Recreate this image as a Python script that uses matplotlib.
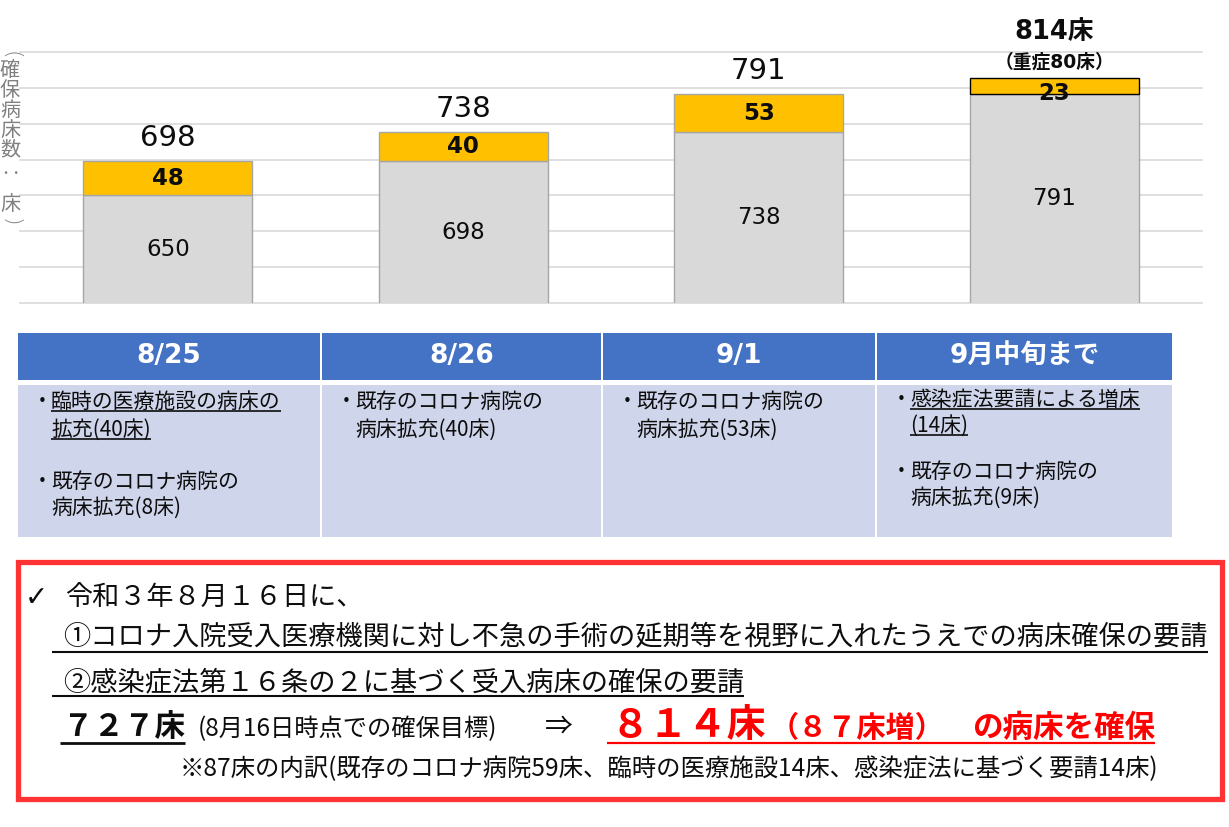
import matplotlib
matplotlib.use("Agg")
import matplotlib.pyplot as plt
from matplotlib.patches import Rectangle

plt.rcParams['font.family'] = ['Noto Sans CJK JP', 'DejaVu Sans']
NUMFONT = ['DejaVu Sans', 'Noto Sans CJK JP']   # Verdana-like digits, CJK fallback

W, H = 1229, 827

# ---- data ---------------------------------------------------------------
dates = ["8/25", "8/26", "9/1", "9月中旬まで"]
existing = [650, 698, 738, 791]
added = [48, 40, 53, 23]
totals = [698, 738, 791, 814]
severe_note = "（重症80床）"
y_label = ["(", "確", "保", "病", "床", "数", "‥", "床", ")"]

# cell lines per column: (row, bullet, text, underlined)
cells = [
    [(0, True, "臨時の医療施設の病床の", True), (1, False, "拡充(40床)", True),
     (2, True, "既存のコロナ病院の", False), (3, False, "病床拡充(8床)", False)],
    [(0, True, "既存のコロナ病院の", False), (1, False, "病床拡充(40床)", False)],
    [(0, True, "既存のコロナ病院の", False), (1, False, "病床拡充(53床)", False)],
    [(0, True, "感染症法要請による増床", True), (1, False, "(14床)", True),
     (2, True, "既存のコロナ病院の", False), (3, False, "病床拡充(9床)", False)],
]

intro = "令和３年８月１６日に、"
req1 = "①コロナ入院受入医療機関に対し不急の手術の延期等を視野に入れたうえでの病床確保の要請"
req2 = "②感染症法第１６条の２に基づく受入病床の確保の要請"
target = "７２７床"
target_note = "(8月16日時点での確保目標)"
result_big = "８１４床"
result_inc = "（８７床増）"
result_tail = "の病床を確保"
breakdown = "※87床の内訳(既存のコロナ病院59床、臨時の医療施設14床、感染症法に基づく要請14床)"

GRAY = "#d9d9d9"
ORANGE = "#ffc000"
BLUE = "#4472c4"
LAV = "#cfd5ea"
RED = "#ff3333"
INK = "#0d0d0d"

fig = plt.figure(figsize=(W / 100, H / 100), dpi=100)


def rect_px(x0, y0, x1, y1):
    return [x0 / W, 1 - y1 / H, (x1 - x0) / W, (y1 - y0) / H]


# ---- stacked bars ---------------------------------------------------------
ax = fig.add_axes(rect_px(20, 51.7, 1202, 303.3))
x = range(len(dates))
ax.bar(x, existing, width=0.572, color=GRAY, edgecolor="#a6a6a6", lw=1, zorder=2)
ax.bar(x, added, bottom=existing, width=0.572, color=ORANGE,
       edgecolor=["#a6a6a6"] * 3 + ["#000000"], lw=1, zorder=2)
ax.set_xlim(-0.5, 3.5)
ax.set_ylim(500, 850)
ax.set_yticks(range(500, 851, 50))
ax.grid(axis="y", color=GRAY, lw=1.2)
for gl in ax.yaxis.get_gridlines():
    gl.set_clip_on(False)
ax.set_axisbelow(True)
ax.tick_params(length=0, labelleft=False, labelbottom=False)
for s in ax.spines.values():
    s.set_visible(False)

for i in x:
    ax.text(i, (500 + existing[i]) / 2, f"{existing[i]}", ha="center", va="center",
            fontsize=16.5, family="DejaVu Sans", color=INK, zorder=5)
    # thin segment: label sits a little low, as in the source slide
    dy = -8 if added[i] < 30 else 0
    ax.annotate(f"{added[i]}", (i, existing[i] + added[i] / 2), xytext=(0, dy),
                textcoords="offset pixels", ha="center", va="center",
                fontsize=16.5, family="DejaVu Sans", fontweight="bold", color=INK,
                zorder=5)
    if i < 3:
        ax.annotate(f"{totals[i]}", (i, totals[i]), xytext=(0, 23),
                    textcoords="offset pixels", ha="center", va="center",
                    fontsize=21, family="DejaVu Sans", color=INK,
                    annotation_clip=False)
    else:
        ax.annotate(f"{totals[i]}床", (i, totals[i]), xytext=(0, 46),
                    textcoords="offset pixels", ha="center", va="center",
                    fontsize=18.5, fontweight="bold", color=INK, family=NUMFONT,
                    annotation_clip=False)
        ax.annotate(severe_note, (i, totals[i]), xytext=(0, 16),
                    textcoords="offset pixels", ha="center", va="center",
                    fontsize=13.5, fontweight="bold", color=INK, family=NUMFONT,
                    annotation_clip=False)

# ---- overlay in pixel coordinates ------------------------------------------
ov = fig.add_axes([0, 0, 1, 1])
ov.set_xlim(0, W)
ov.set_ylim(H, 0)
ov.axis("off")

# vertical axis label, stacked characters (brackets turned for vertical writing)
label_y = [55, 71, 90, 110, 130, 150, 174, 204, 222]
for ch, yy in zip(y_label, label_y):
    if ch in "()":
        ov.text(10.5, yy, ch, ha="center", va="center", fontsize=16,
                color="#808080", rotation=-90, family="DejaVu Sans",
                fontweight="light")
    else:
        ov.text(10, yy, ch, ha="center", va="center", fontsize=14.5,
                color="#808080")

# table
cols = [(18, 320), (322, 601), (603, 875), (877, 1172)]
rows_y = [[402, 430, 482, 508]] * 3 + [[400, 426, 472, 498]]
unders = []
for c, (x0, x1) in enumerate(cols):
    ov.add_patch(Rectangle((x0, 333), x1 - x0, 47, fc=BLUE, ec="none"))
    ov.add_patch(Rectangle((x0, 385), x1 - x0, 152, fc=LAV, ec="none"))
    ov.text((x0 + x1) / 2, 356, dates[c], ha="center", va="center",
            fontsize=19, fontweight="bold", color="white", family=NUMFONT)
    for r, bullet, txt, ul in cells[c]:
        yy = rows_y[c][r]
        if bullet:
            ov.text(x0 + 24, yy, "・", ha="center", va="center", fontsize=15,
                    color=INK)
        t = ov.text(x0 + 33, yy, txt, ha="left", va="center", fontsize=15,
                    color=INK)
        if ul:
            unders.append((t, yy + 9, INK, 1.2, None))

# red box with the summary
ov.add_patch(Rectangle((18, 562), 1204, 237, fill=False, ec=RED, lw=3.8))
ov.text(36, 598, "✓", ha="center", va="center", fontsize=20, color=INK,
        family=["DejaVu Sans"])
ov.text(65, 598, intro, ha="left", va="center", fontsize=19.5, color=INK)
t1 = ov.text(63, 638, req1, ha="left", va="center", fontsize=19.6, color=INK)
t2 = ov.text(63, 683, req2, ha="left", va="center", fontsize=19.6, color=INK)
unders.append((t1, 652, INK, 1.5, 52))
unders.append((t2, 696, INK, 1.5, 52))
t3 = ov.text(63, 727, target, ha="left", va="center", fontsize=22,
             fontweight="bold", color=INK)
unders.append((t3, 743, INK, 2.0, 60))
ov.text(198, 729, target_note, ha="left", va="center", fontsize=17.5, color=INK)
ov.text(545, 727, "⇒", ha="left", va="center", fontsize=20, color=INK)
t4 = ov.text(610, 726, result_big, ha="left", va="center", fontsize=28,
             fontweight="bold", color="#ff0000")
ov.text(770, 728, result_inc, ha="left", va="center", fontsize=21,
        fontweight="bold", color="#ff0000")
t5 = ov.text(972, 728, result_tail, ha="left", va="center", fontsize=22,
             fontweight="bold", color="#ff0000")
ov.text(180, 769, breakdown, ha="left", va="center", fontsize=17.6, color=INK)

# underlines measured from the rendered text
fig.canvas.draw()
rend = fig.canvas.get_renderer()
for t, yy, col, lw, x_start in unders:
    bb = t.get_window_extent(rend)
    xs = bb.x0 if x_start is None else x_start
    ov.plot([xs, bb.x1], [yy, yy], color=col, lw=lw, solid_capstyle="butt")
bb4 = t4.get_window_extent(rend)
bb5 = t5.get_window_extent(rend)
ov.plot([bb4.x0 - 3, bb5.x1], [743, 743], color="#ff0000", lw=1.6,
        solid_capstyle="butt")

fig.savefig("out.png", dpi=100)
